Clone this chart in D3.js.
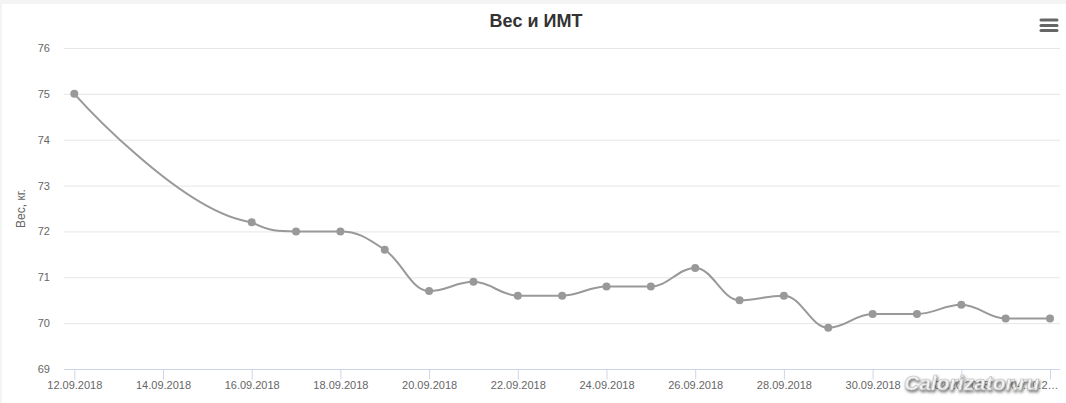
<!DOCTYPE html>
<html>
<head>
<meta charset="utf-8">
<script src="https://cdn.jsdelivr.net/npm/d3@7"></script>
<style>
  html, body { margin: 0; padding: 0; background: #f4f4f4; }
  svg { display: block; font-family: "Liberation Sans", Arial, sans-serif; }
</style>
</head>
<body>
<svg id="chart" width="1066" height="403"></svg>
<script>
// ---- data ----
const dates = ["12.09.2018","16.09.2018","17.09.2018","18.09.2018","19.09.2018","20.09.2018",
  "21.09.2018","22.09.2018","23.09.2018","24.09.2018","25.09.2018","26.09.2018","27.09.2018",
  "28.09.2018","29.09.2018","30.09.2018","01.10.2018","02.10.2018","03.10.2018","04.10.2018"];
const weights = [75, 72.2, 72, 72, 71.6, 70.7, 70.9, 70.6, 70.6, 70.8, 70.8, 71.2, 70.5,
  70.6, 69.9, 70.2, 70.2, 70.4, 70.1, 70.1];
const xTickLabels = ["12.09.2018","14.09.2018","16.09.2018","18.09.2018","20.09.2018","22.09.2018",
  "24.09.2018","26.09.2018","28.09.2018","30.09.2018","02.10.2018","04.10.2018"];
const yTicks = [69, 70, 71, 72, 73, 74, 75, 76];
const titleText = "Вес и ИМТ";
const yTitle = "Вес, кг.";
const watermark = "Calorizator.ru";

// ---- layout ----
const W = 1066, H = 403;
const plot = { left: 64, right: 1060, top: 48, bottom: 369 };
const parse = d3.timeParse("%d.%m.%Y");
const fmt = d3.timeFormat("%d.%m.%Y");
const data = dates.map((d, i) => ({ date: parse(d), v: weights[i] }));

const svg = d3.select("#chart");
svg.append("rect").attr("x", 2).attr("y", 4).attr("width", W - 2).attr("height", H - 4).attr("fill", "#ffffff");

const x = d3.scaleTime().domain([parse(dates[0]), parse(dates[dates.length - 1])]).range([74.3, 1050]);
const y = d3.scaleLinear().domain([69, 76]).range([plot.bottom, plot.top]);

// grid lines
svg.append("g").selectAll("line").data(yTicks.filter(t => t !== 69)).join("line")
  .attr("x1", plot.left).attr("x2", plot.right)
  .attr("y1", d => y(d) + 0.5).attr("y2", d => y(d) + 0.5)
  .attr("stroke", "#e6e6e6").attr("stroke-width", 1);

// y labels
svg.append("g").selectAll("text").data(yTicks).join("text")
  .attr("x", 50).attr("y", d => y(d) + 4)
  .attr("text-anchor", "end").attr("font-size", 11).attr("fill", "#666666")
  .text(d => d);

// y title
svg.append("text")
  .attr("transform", `translate(25, ${(plot.top + plot.bottom) / 2}) rotate(-90)`)
  .attr("text-anchor", "middle").attr("font-size", 12).attr("fill", "#666666")
  .text(yTitle);

// x axis
const xAxis = d3.axisBottom(x)
  .tickValues(xTickLabels.map(parse))
  .tickSize(10).tickSizeOuter(0)
  .tickFormat(fmt);
const gx = svg.append("g").attr("transform", `translate(0, ${plot.bottom + 0.5})`).call(xAxis);
gx.select(".domain").attr("stroke", "#ccd6eb").attr("d", `M${plot.left},0H${plot.right}`);
gx.selectAll(".tick line").attr("stroke", "#ccd6eb");
gx.selectAll(".tick text").attr("fill", "#666666").attr("font-size", 11)
  .attr("font-family", "'Liberation Sans', Arial, sans-serif").attr("y", 0).attr("dy", 19);
// labels overflowing the right edge: justify inward and truncate with ellipsis
const rightLimit = W - 8, maxW = 50;
gx.selectAll(".tick text").each(function() {
  const t = d3.select(this);
  const full = t.text();
  const tx = x(parse(full));
  if (tx + this.getComputedTextLength() / 2 > rightLimit) {
    t.attr("text-anchor", "end").attr("x", rightLimit - tx);
    let s = full;
    while (s.length > 1 && this.getComputedTextLength() > maxW) {
      s = s.slice(0, -1);
      t.text(s + "…");
    }
  }
});

// Highcharts-like spline path
function splinePath(pts) {
  const smoothing = 1.5, denom = smoothing + 1;
  let d = `M${pts[0][0]},${pts[0][1]}`;
  const ctrl = pts.map(() => ({}));
  for (let i = 1; i < pts.length; i++) {
    const [px, py] = pts[i];
    const last = pts[i - 1], next = pts[i + 1];
    let lcx, lcy, rcx, rcy;
    if (next) {
      const [lx, ly] = last, [nx, ny] = next;
      lcx = (smoothing * px + lx) / denom; lcy = (smoothing * py + ly) / denom;
      rcx = (smoothing * px + nx) / denom; rcy = (smoothing * py + ny) / denom;
      if (rcx !== lcx) {
        const corr = ((rcy - lcy) * (rcx - px)) / (rcx - lcx) + py - rcy;
        lcy += corr; rcy += corr;
        if (lcy > ly && lcy > py) { lcy = Math.max(ly, py); rcy = 2 * py - lcy; }
        else if (lcy < ly && lcy < py) { lcy = Math.min(ly, py); rcy = 2 * py - lcy; }
        if (rcy > ny && rcy > py) { rcy = Math.max(ny, py); lcy = 2 * py - rcy; }
        else if (rcy < ny && rcy < py) { rcy = Math.min(ny, py); lcy = 2 * py - rcy; }
      }
      ctrl[i].rx = rcx; ctrl[i].ry = rcy;
    }
    const c1x = ctrl[i - 1].rx !== undefined ? ctrl[i - 1].rx : last[0];
    const c1y = ctrl[i - 1].ry !== undefined ? ctrl[i - 1].ry : last[1];
    const c2x = lcx !== undefined ? lcx : px;
    const c2y = lcy !== undefined ? lcy : py;
    d += `C${c1x},${c1y},${c2x},${c2y},${px},${py}`;
  }
  return d;
}

const pts = data.map(p => [x(p.date), y(p.v)]);
svg.append("path").attr("d", splinePath(pts))
  .attr("fill", "none").attr("stroke", "#999999").attr("stroke-width", 2)
  .attr("stroke-linejoin", "round").attr("stroke-linecap", "round");

svg.append("g").selectAll("circle").data(data).join("circle")
  .attr("cx", p => x(p.date)).attr("cy", p => y(p.v)).attr("r", 4)
  .attr("fill", "#999999");

// title
svg.append("text").attr("x", 536).attr("y", 27).attr("text-anchor", "middle")
  .attr("font-size", 18).attr("font-weight", "bold").attr("fill", "#333333")
  .text(titleText);

// menu icon
svg.append("g").selectAll("line").data([20, 25.5, 30.5]).join("line")
  .attr("x1", 1041).attr("x2", 1057).attr("y1", d => d).attr("y2", d => d)
  .attr("stroke", "#666666").attr("stroke-width", 3).attr("stroke-linecap", "round");

// watermark
const defs = svg.append("defs");
const f = defs.append("filter").attr("id", "wm").attr("x", "-20%").attr("y", "-50%").attr("width", "140%").attr("height", "200%");
f.append("feDropShadow").attr("dx", 1).attr("dy", 2).attr("stdDeviation", 1.5).attr("flood-color", "#555").attr("flood-opacity", 0.9);
svg.append("text").attr("x", 904).attr("y", 390)
  .attr("font-size", 21).attr("font-weight", "bold").attr("font-style", "italic")
  .attr("fill", "#f2f2f2").attr("stroke", "#bbbbbb").attr("stroke-width", 0.6)
  .attr("filter", "url(#wm)")
  .text(watermark);
</script>
</body>
</html>
